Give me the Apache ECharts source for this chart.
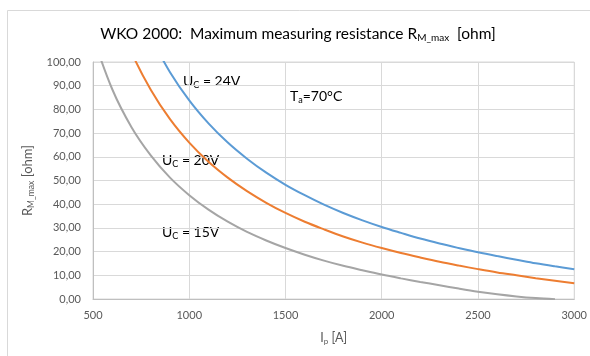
<!DOCTYPE html>
<html>
<head>
<meta charset="utf-8">
<script src="https://cdn.jsdelivr.net/npm/echarts@6/dist/echarts.min.js"></script>
<style>
html,body{margin:0;padding:0;background:#fff;}
#chart{width:590px;height:356px;}
</style>
</head>
<body>
<div id="chart"></div>
<script>
// Data (I_p in A, R_M_max in ohm)
var currentA = [500, 600, 700, 800, 900, 1000, 1100, 1200, 1300, 1400, 1500, 1600, 1700, 1800, 1900, 2000, 2100, 2200, 2300, 2400, 2500, 2600, 2700, 2800, 2900, 3000];
var uc24 = [null, null, null, 110.5, 95.7, 83.8, 74.1, 66.0, 59.2, 53.3, 48.2, 43.8, 39.8, 36.3, 33.2, 30.4, 27.9, 25.5, 23.4, 21.5, 19.7, 18.1, 16.6, 15.1, 13.8, 12.6];
var uc20 = [null, 125.3, 104.1, 88.3, 75.9, 66.0, 57.9, 51.2, 45.5, 40.6, 36.3, 32.6, 29.4, 26.4, 23.8, 21.5, 19.4, 17.5, 15.7, 14.1, 12.6, 11.2, 10.0, 8.8, 7.7, 6.6];
var uc15 = [110.8, 88.5, 72.5, 60.6, 51.2, 43.8, 37.7, 32.6, 28.3, 24.7, 21.5, 18.7, 16.2, 14.0, 12.1, 10.3, 8.7, 7.2, 5.8, 4.4, 3.1, 2.0, 1.1, 0.4, -0.1, null];
var xTicks = [500, 1000, 1500, 2000, 2500, 3000];
var yTicks = [0, 10, 20, 30, 40, 50, 60, 70, 80, 90, 100];

function pairs(xs, ys) {
  var out = [];
  for (var i = 0; i < xs.length; i++) {
    if (ys[i] !== null) out.push([xs[i], ys[i]]);
  }
  return out;
}

var FONT = 'Lato, "Open Sans", sans-serif';
var chart = echarts.init(document.getElementById('chart'));
var labelRich = {
  u: {fontSize: 14, fontFamily: FONT, color: '#1a1a1a'},
  s: {fontSize: 9, fontFamily: FONT, color: '#1a1a1a', verticalAlign: 'bottom', padding: [8, 0, 0, 0]}
};
chart.setOption({
  animation: false,
  backgroundColor: '#fff',
  grid: {left: 93, right: 14, top: 62, bottom: 57, show: true, borderColor: '#D9D9D9', borderWidth: 1},
  xAxis: {
    type: 'value', min: xTicks[0], max: xTicks[xTicks.length - 1], interval: 500,
    axisLine: {show: true, lineStyle: {color: '#BFBFBF'}},
    axisTick: {show: false},
    splitLine: {show: true, lineStyle: {color: '#D9D9D9'}},
    axisLabel: {color: '#595959', fontSize: 11, fontFamily: FONT, margin: 11,
      formatter: function (v) { return String(v); }},
    name: '{a|I}{b|p}{a| [A]}',
    nameLocation: 'middle', nameGap: 32,
    nameTextStyle: {rich: {
      a: {fontSize: 12.5, fontFamily: FONT, color: '#595959'},
      b: {fontSize: 8, fontFamily: FONT, color: '#595959', verticalAlign: 'bottom', padding: [6, 0, 0, 0]}
    }}
  },
  yAxis: {
    type: 'value', min: yTicks[0], max: yTicks[yTicks.length - 1], interval: 10,
    axisLine: {show: true, lineStyle: {color: '#BFBFBF'}},
    axisTick: {show: false},
    splitLine: {show: true, lineStyle: {color: '#D9D9D9'}},
    axisLabel: {color: '#595959', fontSize: 11, fontFamily: FONT, margin: 12,
      formatter: function (v) { return v.toFixed(2).replace('.', ','); }},
    name: '{a|R}{b|M_max}{a| [ohm]}',
    nameLocation: 'middle', nameGap: 48, nameRotate: 90,
    nameTextStyle: {rich: {
      a: {fontSize: 13, fontFamily: FONT, color: '#595959'},
      b: {fontSize: 8.5, fontFamily: FONT, color: '#595959', verticalAlign: 'bottom', padding: [6, 0, 0, 0]}
    }}
  },
  series: [
    {type: 'line', name: 'Uc = 24V', data: pairs(currentA, uc24), smooth: 0.35, showSymbol: false,
      lineStyle: {color: '#5B9BD5', width: 2}, clip: true},
    {type: 'line', name: 'Uc = 20V', data: pairs(currentA, uc20), smooth: 0.35, showSymbol: false,
      lineStyle: {color: '#ED7D31', width: 2}, clip: true},
    {type: 'line', name: 'Uc = 15V', data: pairs(currentA, uc15), smooth: 0.35, showSymbol: false,
      lineStyle: {color: '#A5A5A5', width: 2}, clip: true}
  ],
  graphic: [
    {type: 'rect', shape: {x: 7.5, y: 10.5, width: 600, height: 360}, silent: true,
      style: {fill: 'none', stroke: '#D9D9D9', lineWidth: 1}, z: -10},
    {type: 'text', x: 298, y: 34, silent: true,
      style: {text: '{a|WKO 2000:  Maximum measuring resistance R}{b|M_max}{a|  [ohm]}',
        align: 'center', verticalAlign: 'middle',
        rich: {
          a: {fontSize: 15.5, fontFamily: FONT, color: '#404040'},
          b: {fontSize: 10, fontFamily: FONT, color: '#404040', verticalAlign: 'bottom', padding: [8, 0, 0, 0]}
        }}},
    {type: 'text', x: 183, y: 81, silent: true,
      style: {text: '{u|U}{s|C}{u| = 24V}', verticalAlign: 'middle', rich: labelRich}},
    {type: 'text', x: 290, y: 96, silent: true,
      style: {text: '{u|T}{s|a}{u|=70°C}', verticalAlign: 'middle', rich: labelRich}},
    {type: 'text', x: 162, y: 160, silent: true,
      style: {text: '{u|U}{s|C}{u| = 20V}', verticalAlign: 'middle', rich: labelRich}},
    {type: 'text', x: 162, y: 232, silent: true,
      style: {text: '{u|U}{s|C}{u| = 15V}', verticalAlign: 'middle', rich: labelRich}}
  ]
});
</script>
</body>
</html>
